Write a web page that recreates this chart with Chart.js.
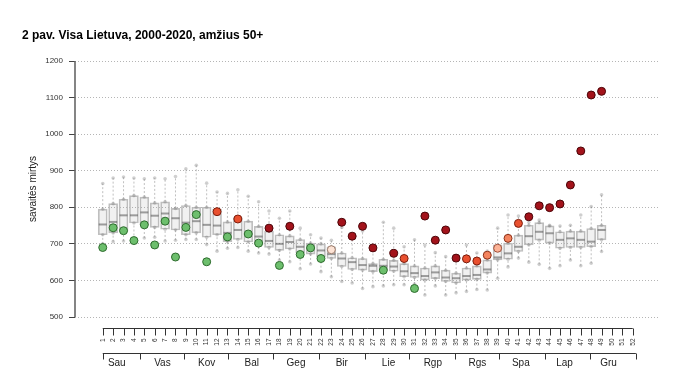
<!DOCTYPE html>
<html><head><meta charset="utf-8">
<script src="https://cdn.jsdelivr.net/npm/chart.js@4"></script>
<style>html,body{margin:0;padding:0;background:#fff;}</style>
</head><body>
<canvas id="c" width="678" height="383"></canvas>
<script>
const titleText = '2 pav. Visa Lietuva, 2000-2020, amžius 50+';
const yTitle = 'savaitės mirtys';
const yTicks = [500, 600, 700, 800, 900, 1000, 1100, 1200];
const weekLabels = ['1','2','3','4','5','6','7','8','9','10','11','12','13','14','15','16','17','18','19','20','21','22','23','24','25','26','27','28','29','30','31','32','33','34','35','36','37','38','39','40','41','42','43','44','45','46','47','48','49','50','51','52'];
const monthLabels = ['Sau','Vas','Kov','Bal','Geg','Bir','Lie','Rgp','Rgs','Spa','Lap','Gru'];
const monthBounds = [1, 4.6, 8.8, 13.06, 17.36, 21.85, 26.25, 30.5, 34.9, 39.17, 43.57, 47.9, 52.3];
const monthCenters = [2.35, 6.74, 11.0, 15.34, 19.6, 24.0, 28.5, 32.76, 37.05, 41.23, 45.43, 49.67];

// 2000-2019 distribution per week (weeks 1..49)
const weeks = [1,2,3,4,5,6,7,8,9,10,11,12,13,14,15,16,17,18,19,20,21,22,23,24,25,26,27,28,29,30,31,32,33,34,35,36,37,38,39,40,41,42,43,44,45,46,47,48,49];
const q1  = [725,730,735,757,752,745,740,738,725,730,718,725,706,712,705,698,690,682,686,675,672,665,660,638,630,628,624,628,625,610,608,601,605,597,593,601,603,620,656,658,679,697,710,702,688,690,690,692,711];
const med = [753,760,778,778,786,777,783,770,758,762,752,750,730,738,728,720,708,700,705,692,688,682,672,660,650,642,640,640,638,625,620,612,622,608,606,612,615,630,663,674,692,721,733,729,711,715,711,706,738];
const q3  = [795,810,822,832,828,812,815,797,805,800,800,795,760,772,762,748,735,725,722,712,702,700,692,675,662,660,646,658,655,646,640,634,640,628,620,634,640,656,697,702,724,751,758,749,733,735,735,742,751];
const lo  = [700,706,708,712,716,718,708,710,712,712,698,680,688,690,680,675,672,656,651,632,645,624,610,597,593,578,583,585,588,588,590,560,585,560,566,570,575,574,606,637,661,650,644,633,640,656,640,647,679];
const hi  = [865,880,883,880,878,880,878,884,905,915,866,842,838,848,830,815,790,770,790,743,725,716,710,745,725,735,692,759,743,692,711,697,676,665,661,697,675,680,743,779,776,759,765,751,749,751,779,802,834];

// 2020 weekly deaths and severity level (0 = below typical, 1..5 = increasingly above)
const deaths2020 = [690,744,736,709,752,697,762,664,745,780,651,788,719,768,727,702,743,641,748,671,689,660,684,759,721,748,689,628,674,660,578,776,710,738,661,659,653,669,688,715,756,774,804,799,809,861,954,1107,1117];
const level2020  = [0,0,0,0,0,0,0,0,0,0,0,4,0,4,0,0,5,0,5,0,0,0,1,5,5,5,5,0,5,4,0,5,5,5,5,4,4,3,2,3,4,5,5,5,5,5,5,5,5];

const fillByLevel   = ['#6dbf6d','#fde3d5','#fcb397','#f4845f','#e9502f','#a3131b'];
const borderByLevel = ['#2e6b2e','#9a7a6a','#a0503a','#8a3018','#7a1c0c','#4a0508'];

const boxData = weeks.map((w,i)=>({x:w, y:[q1[i], q3[i]]}));
const whiskerData = [];
weeks.forEach((w,i)=>{
  whiskerData.push({x:w,y:lo[i]},{x:w,y:q1[i]},{x:w,y:null},{x:w,y:q3[i]},{x:w,y:hi[i]},{x:w,y:null});
});
const medData = weeks.map((w,i)=>({x:w, y:med[i]}));
const endData = [];
weeks.forEach((w,i)=>{ endData.push({x:w,y:lo[i]},{x:w,y:hi[i]},{x:w,y:q1[i]},{x:w,y:q3[i]}); });
const pts2020 = deaths2020.map((v,i)=>({x:weeks[i], y:v}));

const FONT = '"Liberation Sans", Arial, sans-serif';

const rAxes = {
  id: 'rAxes',
  afterDraw(chart) {
    const {ctx, chartArea, scales:{x, y}} = chart;
    ctx.save();
    // y axis line
    ctx.strokeStyle = '#666'; ctx.lineWidth = 1.6;
    ctx.beginPath();
    ctx.moveTo(chartArea.left, y.getPixelForValue(yTicks[0]));
    ctx.lineTo(chartArea.left, y.getPixelForValue(yTicks[yTicks.length-1]));
    ctx.stroke();
    // week axis
    const yA = Math.round(chartArea.bottom + 11) + 0.5;
    ctx.strokeStyle = '#333'; ctx.lineWidth = 1;
    ctx.beginPath();
    ctx.moveTo(x.getPixelForValue(1), yA);
    ctx.lineTo(x.getPixelForValue(weekLabels.length), yA);
    weekLabels.forEach((l,i)=>{
      const px = Math.round(x.getPixelForValue(i+1)) + 0.5;
      ctx.moveTo(px, yA); ctx.lineTo(px, yA + 7);
    });
    ctx.stroke();
    ctx.fillStyle = '#333';
    ctx.font = '6.5px ' + FONT;
    ctx.textAlign = 'right'; ctx.textBaseline = 'middle';
    weekLabels.forEach((l,i)=>{
      ctx.save();
      ctx.translate(x.getPixelForValue(i+1), yA + 10);
      ctx.rotate(-Math.PI/2);
      ctx.fillText(l, 0, 0);
      ctx.restore();
    });
    // month axis
    const yM = yA + 25;
    ctx.beginPath();
    ctx.moveTo(x.getPixelForValue(monthBounds[0]), yM);
    ctx.lineTo(x.getPixelForValue(monthBounds[monthBounds.length-1]), yM);
    monthBounds.forEach(b=>{
      const px = Math.round(x.getPixelForValue(b)) + 0.5;
      ctx.moveTo(px, yM); ctx.lineTo(px, yM + 6);
    });
    ctx.stroke();
    ctx.font = '10px ' + FONT;
    ctx.fillStyle = '#222';
    ctx.textAlign = 'center'; ctx.textBaseline = 'middle';
    monthLabels.forEach((m,i)=>{
      ctx.fillText(m, x.getPixelForValue(monthCenters[i]), yM + 10);
    });
    ctx.restore();
  }
};

new Chart(document.getElementById('c'), {
  type: 'bar',
  data: {
    datasets: [
      { type:'scatter', data: pts2020, order: 0,
        pointRadius: 4, pointHoverRadius: 4, borderWidth: 1,
        backgroundColor: ctx => fillByLevel[level2020[ctx.dataIndex]],
        borderColor: ctx => borderByLevel[level2020[ctx.dataIndex]] },
      { type:'scatter', data: medData, order: 1,
        pointStyle: 'line', pointRadius: 4, borderWidth: 2,
        borderColor: 'rgba(70,70,70,0.5)' },
      { type:'scatter', data: endData, order: 2,
        pointRadius: 1.8, borderWidth: 0,
        backgroundColor: 'rgba(120,120,120,0.35)' },
      { type:'line', data: whiskerData, order: 3, spanGaps: false,
        pointRadius: 0, borderWidth: 1, borderDash: [2,2],
        borderColor: 'rgba(150,150,150,0.6)', fill: false },
      { type:'bar', data: boxData, order: 4, barThickness: 9,
        backgroundColor: 'rgba(150,150,150,0.13)', borderColor: 'rgba(185,185,185,0.9)',
        borderWidth: 1, borderSkipped: false }
    ]
  },
  options: {
    responsive: false, animation: false, devicePixelRatio: 1,
    layout: { padding: { left: 22, right: 20, bottom: 66, top: 0 } },
    plugins: {
      legend: { display: false }, tooltip: { enabled: false },
      title: { display: true, text: titleText, align: 'start', color: '#000',
        font: { family: FONT, size: 12, weight: 'bold', lineHeight: 1.2 },
        padding: { top: 28, bottom: 18.6 } }
    },
    scales: {
      x: { type: 'linear', display: false, min: -1.67, max: 54.43, offset: false },
      y: { type: 'linear', min: 500, max: 1200,
        afterFit: s => { s.width = 53; },
        afterBuildTicks: s => { s.ticks = yTicks.map(v => ({value: v})); },
        ticks: { font: { family: FONT, size: 8 }, color: '#333', padding: 6,
          callback: v => String(v) },
        grid: { color: '#b5b5b5', lineWidth: 1, tickLength: 6, tickColor: '#444', tickBorderDash: [], tickWidth: 1 },
        border: { display: false, dash: [1, 2] },
        title: { display: true, text: yTitle, color: '#222',
          font: { family: FONT, size: 10 }, padding: { top: 5, bottom: 0 } } }
    }
  },
  plugins: [rAxes]
});
</script>
</body></html>
